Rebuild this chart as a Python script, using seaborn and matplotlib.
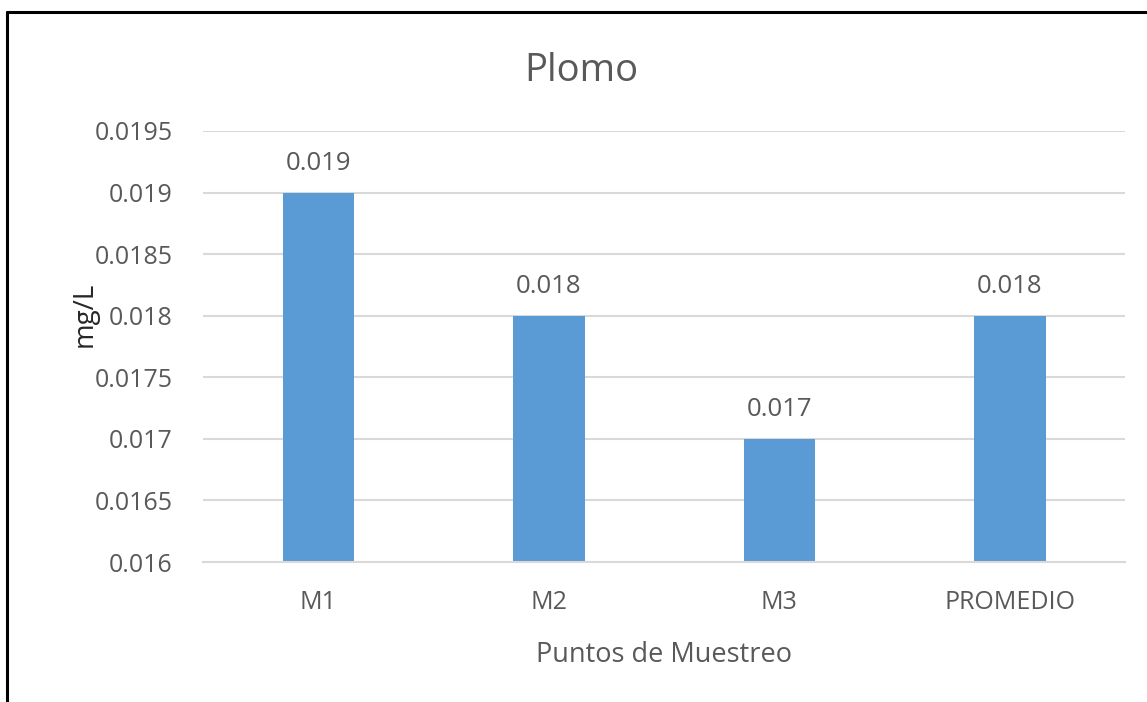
import matplotlib
matplotlib.use("Agg")
import matplotlib.pyplot as plt
import seaborn as sns
import pandas as pd
from matplotlib.lines import Line2D

# Lead concentration per sampling point
puntos = ["M1", "M2", "M3", "PROMEDIO"]
plomo = [0.019, 0.018, 0.017, 0.018]
y_ticks = [0.016, 0.0165, 0.017, 0.0175, 0.018, 0.0185, 0.019, 0.0195]
y_tick_labels = ["0.016", "0.0165", "0.017", "0.0175", "0.018", "0.0185", "0.019", "0.0195"]

df = pd.DataFrame({"punto": puntos, "valor": plomo})

sns.set_theme(style="white")
plt.rcParams["font.family"] = ["Open Sans", "DejaVu Sans"]

text_color = "#595959"
grid_color = "#D9D9D9"
bar_color = "#5B9BD5"

fig = plt.figure(figsize=(11.47, 7.02), dpi=100)
ax = fig.add_axes([0.177, 0.1994, 0.804, 0.614])

sns.barplot(data=df, x="punto", y="valor", color=bar_color, width=0.31,
            saturation=1, linewidth=0, ax=ax, zorder=3)

ax.set_ylim(0.016, 0.0195)
ax.set_xlim(-0.5, len(puntos) - 0.5)
ax.set_yticks(y_ticks)
ax.set_yticklabels(y_tick_labels)

ax.yaxis.grid(True, color=grid_color, linewidth=1.5, zorder=0)
ax.xaxis.grid(False)
for side in ["top", "right", "left"]:
    ax.spines[side].set_visible(False)
ax.spines["bottom"].set_color(grid_color)
ax.spines["bottom"].set_linewidth(1.5)
ax.spines["bottom"].set_zorder(4)

ax.tick_params(axis="both", length=0, labelsize=18, colors=text_color)
ax.tick_params(axis="y", pad=22)
ax.tick_params(axis="x", pad=20)

for container in ax.containers:
    ax.bar_label(container, labels=[f"{v:.3f}" for v in plomo],
                 padding=12, fontsize=18.5, color=text_color)

ax.set_xlabel("Puntos de Muestreo", fontsize=19.5, color=text_color, labelpad=19)
ax.set_ylabel("mg/L", fontsize=20, color="#262626")
ax.yaxis.set_label_coords(-0.113, 0.575)

fig.text(0.507, 0.899, "Plomo", ha="center", va="center",
         fontsize=27.5, color=text_color)

# Frame lines along the top and left edges of the figure
fig.add_artist(Line2D([0.0065, 1.0], [0.983, 0.983], color="black", linewidth=2.2,
                      transform=fig.transFigure))
fig.add_artist(Line2D([0.0065, 0.0065], [0.0, 0.983], color="black", linewidth=2.2,
                      transform=fig.transFigure))

fig.savefig("out.png", dpi=100, facecolor="white")
